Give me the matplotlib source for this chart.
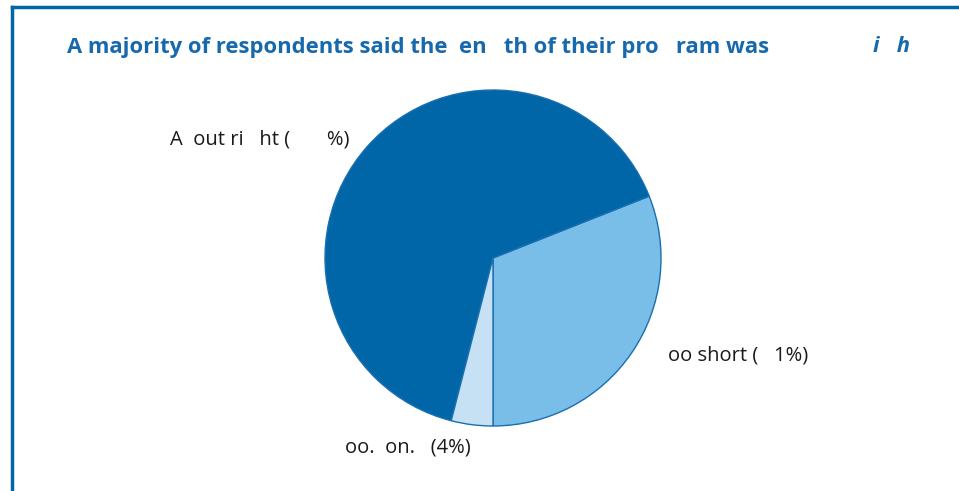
import matplotlib
matplotlib.use("Agg")
import matplotlib.pyplot as plt

# slices, counter-clockwise starting from the bottom of the pie
shares = [31, 65, 4]
labels = ["oo short (   1%)", "A  out ri   ht (       %)", "oo.  on.   (4%)"]
colors = ["#78bee8", "#0066a8", "#c7e1f4"]

title_main = "A majority of respondents said the  en   th of their pro   ram was"
title_tail = "i   h"

fig = plt.figure(figsize=(9.59, 4.91), dpi=100)

# frame on the left and top edge only
fig.add_artist(plt.Line2D([12 / 959, 12 / 959], [0, 1 - 7 / 491], color="#0066a8", lw=2.5))
fig.add_artist(plt.Line2D([12 / 959, 1], [1 - 7 / 491, 1 - 7 / 491], color="#0066a8", lw=2.5))

fig.text(67 / 959, 1 - 47 / 491, title_main, color="#1769ad", fontsize=15.8,
         fontweight="bold", family="Open Sans", va="center", ha="left")
fig.text(873 / 959, 1 - 47 / 491, title_tail, color="#1769ad", fontsize=15.8,
         fontweight="bold", style="italic", family="Open Sans", va="center", ha="left")

# pie axes: centre (493, 258), radius ~168 px
r = 168
ax = fig.add_axes([(493 - r) / 959, 1 - (258 + r) / 491, 2 * r / 959, 2 * r / 491])
ax.pie(shares, colors=colors, startangle=-90, counterclock=True,
       wedgeprops=dict(edgecolor="#1a6fb0", linewidth=1.0))
ax.set_xlim(-1, 1)
ax.set_ylim(-1, 1)
ax.set_aspect("auto")
ax.axis("off")

label_pos = [(668, 356), (170, 140), (345, 447)]
for lab, (x, y) in zip(labels, label_pos):
    fig.text(x / 959, 1 - y / 491, lab, fontsize=14.5, color="#1a1a1a",
             family="Open Sans", va="center", ha="left")

fig.savefig("out.png", dpi=100)
